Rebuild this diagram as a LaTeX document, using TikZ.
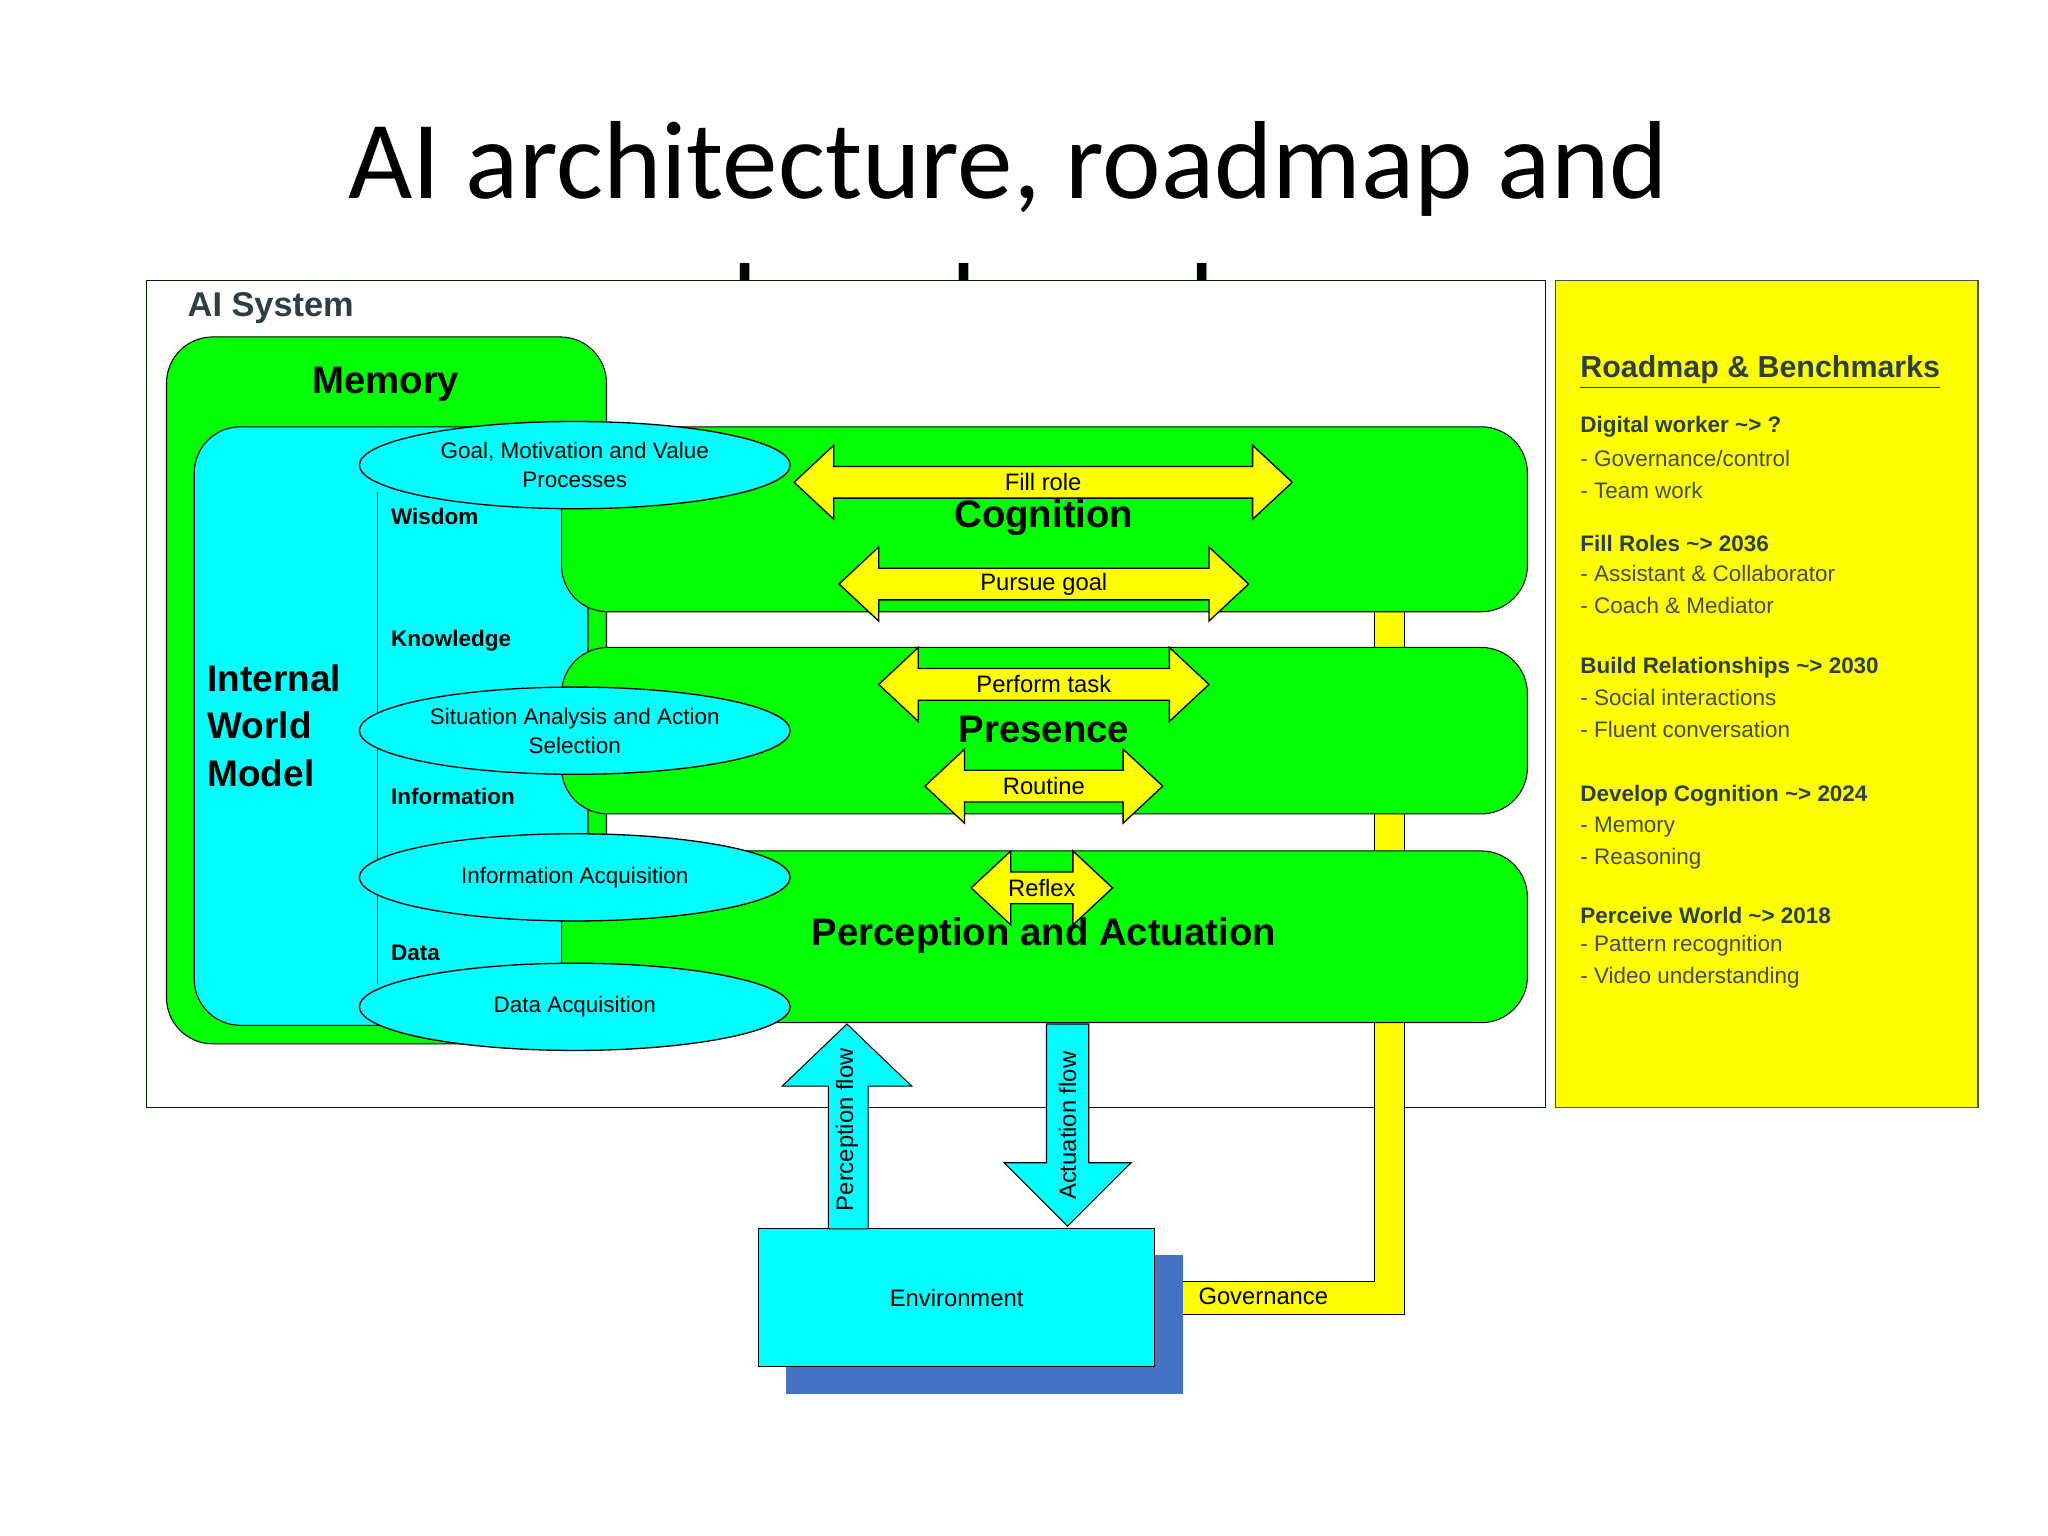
\documentclass[tikz,border=0pt]{standalone}
\usepackage{fontspec}
\setmainfont{Liberation Sans}
\newfontfamily\titlefont{Carlito}
\definecolor{grn}{HTML}{00FF00}
\definecolor{cyn}{HTML}{00FFFF}
\definecolor{ylw}{HTML}{FFFF00}
\definecolor{shadow}{HTML}{4472C4}
\definecolor{dtext}{HTML}{2F3F3F}
\definecolor{ntext}{HTML}{4A4A4A}
\tikzset{
  yarrow/.style={fill=ylw,draw=black,line width=0.5pt},
  lbl/.style={font=\fontsize{9}{10}\selectfont},
  big/.style={font=\bfseries\fontsize{14.5}{16}\selectfont},
  lay/.style={font=\bfseries\fontsize{8.5}{10}\selectfont,anchor=west},
  ell/.style={ellipse,draw=black,fill=cyn,line width=0.5pt,minimum width=326\pxu,minimum height=66\pxu,align=center,inner sep=0pt,font=\fontsize{8.5}{11}\selectfont},
  rm/.style={anchor=west,font=\fontsize{8.5}{10}\selectfont,text=ntext},
  rmb/.style={anchor=west,font=\bfseries\fontsize{8.5}{10}\selectfont,text=dtext},
}
\newlength\pxu \setlength\pxu{0.5pt}
\newcommand\dblarrow[4]{%
\draw[yarrow] (#1,#3) -- (#1+30,#3-28) -- (#1+30,#3-12) -- (#2-30,#3-12) -- (#2-30,#3-28) -- (#2,#3) -- (#2-30,#3+28) -- (#2-30,#3+12) -- (#1+30,#3+12) -- (#1+30,#3+28) -- cycle;
\node[lbl] at ({(#1+#2)/2},#3) {#4};}
\usetikzlibrary{shapes.geometric}
\begin{document}
\begin{tikzpicture}[x=0.5pt,y=-0.5pt]
\useasboundingbox[fill=white] (0,0) rectangle (1550,1162);
\node[anchor=base,font=\titlefont\fontsize{42}{50}\selectfont] (t1) at (763,150) {AI architecture, roadmap and};
\node[anchor=base,font=\titlefont\fontsize{42}{50}\selectfont] (t2) at (763,258) {benchmarks};
\draw[fill=white,draw=black!70!green!40!black] (111,212) rectangle (1170,838);
\node[anchor=west,font=\bfseries\fontsize{13}{14}\selectfont,text=dtext] at (135,233) {AI System};
\draw[fill=ylw,draw=black!70] (1177,212) rectangle (1497,838);
% memory
\draw[fill=grn,rounded corners=35\pxu] (126,255) rectangle (459,790);
\node[big] at (292,291) {Memory};
\draw[fill=cyn,rounded corners=35\pxu] (147,323) rectangle (445,776);
\draw (286,372) -- (286,745);
% governance line
\draw[fill=ylw] (1040,455) -- (1063,455) -- (1063,995) -- (895,995) -- (895,970) -- (1040,970) -- cycle;
% bars
\draw[fill=grn,rounded corners=35\pxu] (425,323) rectangle (1156,463);
\draw[fill=grn,rounded corners=35\pxu] (425,490) rectangle (1156,616);
\draw[fill=grn,rounded corners=35\pxu] (425,644) rectangle (1156,774);
\node[big] at (790,392) {Cognition};
\node[big] at (790,552) {Presence};
\node[big] at (790,708) {Perception and Actuation};
% ellipses
\node[ell] (goal) at (435,352) {Goal, Motivation and Value\\Processes};
\node[ell] (sit) at (435,553) {Situation Analysis and Action\\Selection};
\node[ell] (ia) at (435,664) {Information Acquisition};
\node[ell] (da) at (435,762) {Data Acquisition};
\node[lay] at (289,391) {Wisdom};
\node[lay] at (289,485) {Knowledge};
\node[lay] at (289,603) {Information};
\node[lay] at (289,721) {Data};
\node[anchor=west,align=left,font=\bfseries\fontsize{14}{18}\selectfont] at (150,549) {Internal\\World\\Model};
% double arrows
\dblarrow{601}{978}{365}{Fill role}
\dblarrow{635}{945}{442}{Pursue goal}
\dblarrow{665}{915}{518}{Perform task}
\dblarrow{700}{880}{595}{Routine}
\dblarrow{735}{842}{672}{Reflex}
% environment
\fill[shadow] (595,950) rectangle (895,1055);
\node[draw=black,fill=cyn,minimum width=300\pxu,minimum height=104\pxu,inner sep=0pt,lbl] (env) at (724,982) {Environment};
\node[lbl,anchor=west] at (900,981) {Governance};
% flow arrows
\draw[fill=cyn] (627,930) -- (627,822) -- (592,822) -- (641,775) -- (690,822) -- (657,822) -- (657,930) -- cycle;
\node[lbl,rotate=90] at (641,855) {Perception flow};
\draw[fill=cyn] (792,775) -- (824,775) -- (824,880) -- (856,880) -- (808,928) -- (760,880) -- (792,880) -- cycle;
\node[lbl,rotate=90] at (808,852) {Actuation flow};
% roadmap
\node[anchor=west,font=\bfseries\fontsize{11.5}{13}\selectfont,text=dtext] at (1189,282) {\underline{Roadmap \& Benchmarks}};
\node[rmb] at (1189,323) {Digital worker \textasciitilde> ?};
\node[rm] at (1189,347) {- Governance/control};
\node[rm] at (1189,371) {- Team work};
\node[rmb] at (1189,411) {Fill Roles \textasciitilde> 2036};
\node[rm] at (1189,434) {- Assistant \& Collaborator};
\node[rm] at (1189,458) {- Coach \& Mediator};
\node[rmb] at (1189,505) {Build Relationships \textasciitilde> 2030};
\node[rm] at (1189,528) {- Social interactions};
\node[rm] at (1189,552) {- Fluent conversation};
\node[rmb] at (1189,602) {Develop Cognition \textasciitilde> 2024};
\node[rm] at (1189,626) {- Memory};
\node[rm] at (1189,650) {- Reasoning};
\node[rmb] at (1189,693) {Perceive World \textasciitilde> 2018};
\node[rm] at (1189,716) {- Pattern recognition};
\node[rm] at (1189,740) {- Video understanding};
\end{tikzpicture}
\end{document}
